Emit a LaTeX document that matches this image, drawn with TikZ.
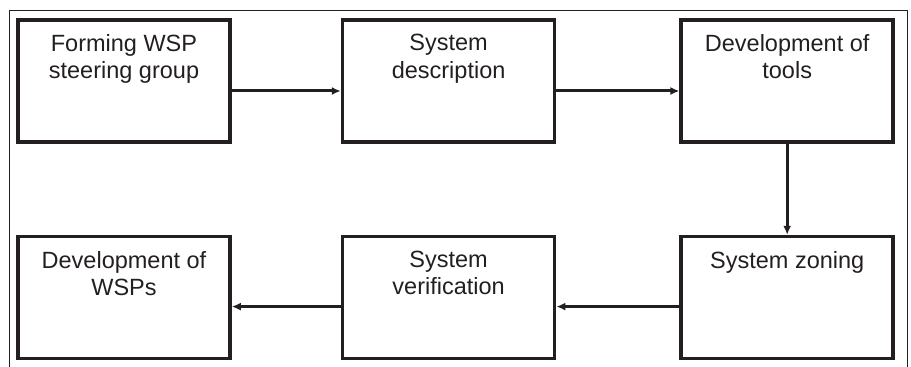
\documentclass[tikz,border=0pt]{standalone}
\usepackage{fontspec}
\setmainfont{Liberation Sans}
\usetikzlibrary{positioning,arrows.meta}
\definecolor{ink}{RGB}{35,31,32}

\begin{document}
\begin{tikzpicture}[x=1pt,y=1pt,
	stage/.style={draw=ink,line width=3.6pt,minimum width=212pt,minimum height=122pt,inner sep=0pt},
	caption/.style={anchor=north,inner sep=0pt,align=center,text=ink,font=\fontsize{23.5}{27.5}\selectfont},
	link/.style={draw=ink,line width=3pt,-{Latex[length=9pt,width=8pt]}}]
	\useasboundingbox (0,0) rectangle (911,367);
	%% outer frame
	\draw[ink,line width=1pt] (9,0) -- (9,356) -- (907,356) -- (907,0);
	%% top row
	\node[stage] (s1) at (124,286) {};
	\node[stage,right =109pt of s1] (s2) {};
	\node[stage,right =123pt of s2] (s3) {};
	%% bottom row
	\node[stage,below =91pt of s3] (s4) {};
	\node[stage,left =123pt of s4] (s5) {};
	\node[stage,left =109pt of s5] (s6) {};
	%% texts
	\node[caption,below =16pt of s1.north] (t1) {Forming WSP\\steering group};
	\node[caption,below =16pt of s2.north] (t2) {System\\description};
	\node[caption,below =16pt of s3.north] (t3) {Development of\\tools};
	\node[caption,below =16pt of s4.north] (t4) {System zoning};
	\node[caption,below =16pt of s5.north] (t5) {System\\verification};
	\node[caption,below =16pt of s6.north] (t6) {Development of\\WSPs};
	%% arrows
	\draw[link] ([yshift=-10pt]s1.east) -- ([yshift=-10pt]s2.west);
	\draw[link] ([yshift=-10pt]s2.east) -- ([yshift=-10pt]s3.west);
	\draw[link] (s3.south) -- (s4.north);
	\draw[link] ([yshift=-9pt]s4.west) -- ([yshift=-9pt]s5.east);
	\draw[link] ([yshift=-9pt]s5.west) -- ([yshift=-9pt]s6.east);
\end{tikzpicture}
\end{document}
